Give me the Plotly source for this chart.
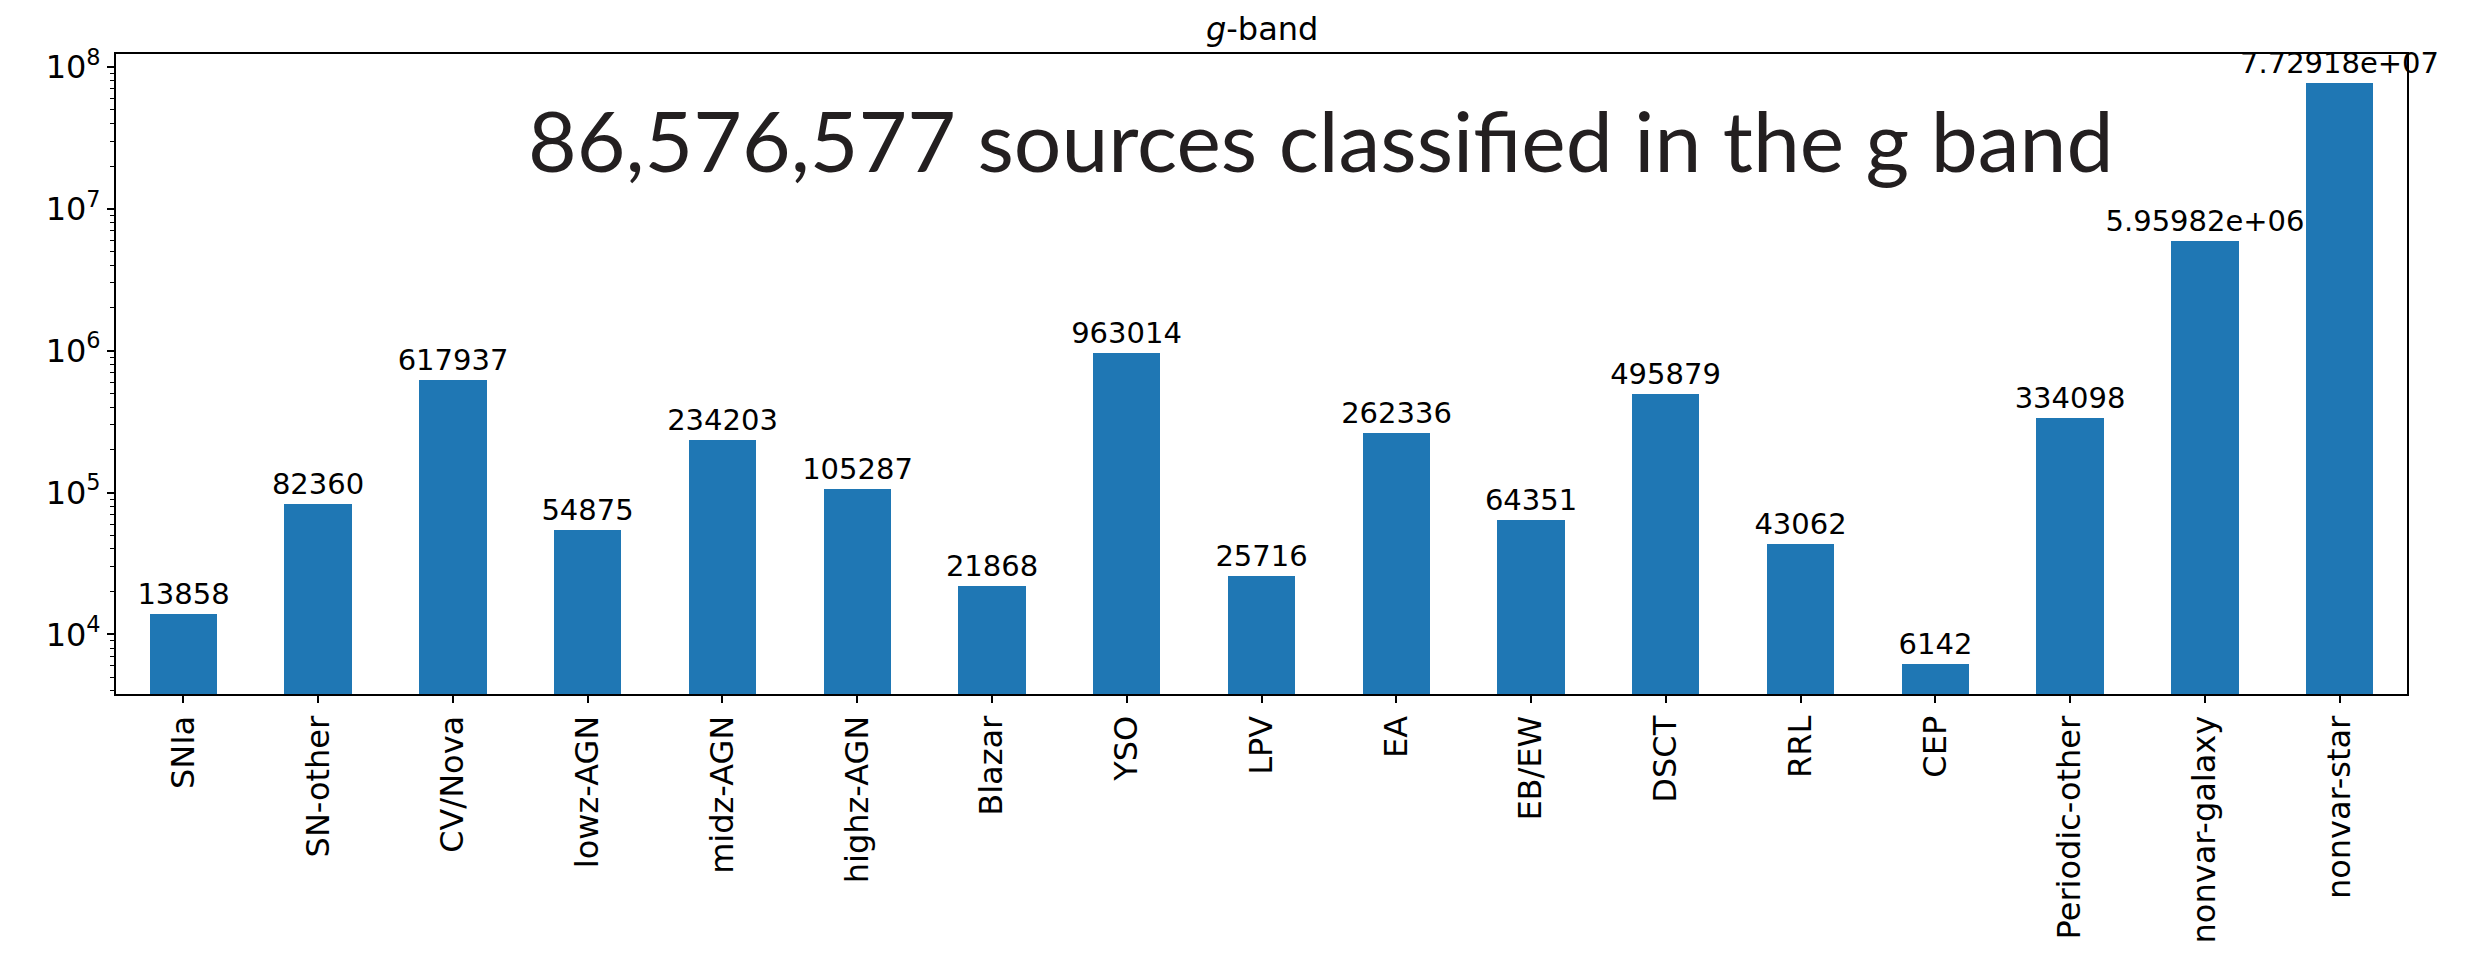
import plotly.graph_objects as go

# g-band class counts
categories = ["SNIa", "SN-other", "CV/Nova", "lowz-AGN", "midz-AGN", "highz-AGN",
              "Blazar", "YSO", "LPV", "EA", "EB/EW", "DSCT", "RRL", "CEP",
              "Periodic-other", "nonvar-galaxy", "nonvar-star"]
counts = [13858, 82360, 617937, 54875, 234203, 105287,
          21868, 963014, 25716, 262336, 64351, 495879, 43062, 6142,
          334098, 5959820, 77291771]

y_tickvals = [1e4, 1e5, 1e6, 1e7, 1e8]
y_ticktext = ["10<sup>4</sup>", "10<sup>5</sup>", "10<sup>6</sup>",
              "10<sup>7</sup>", "10<sup>8</sup>"]

bar_labels = [f"{v:g}" for v in counts]
total_text = f"{sum(counts):,} sources classified in the g band"

W, H = 2490, 955
ML, MR, MT, MB = 116, 83, 54, 258

fig = go.Figure(go.Bar(
    x=list(range(len(categories))),
    y=counts,
    width=0.5,
    marker=dict(color="#1f77b4", line=dict(width=0)),
    text=bar_labels,
    textposition="outside",
    textfont=dict(family="DejaVu Sans", size=29, color="black"),
    constraintext="none",
    cliponaxis=False,
))

axis_common = dict(
    showline=True, linecolor="black", linewidth=2, mirror=True,
    showgrid=False, zeroline=False,
    ticks="outside", ticklen=7, tickwidth=1.5, tickcolor="black",
    tickfont=dict(family="DejaVu Sans", size=32, color="black"),
)

fig.update_xaxes(
    **axis_common,
    tickmode="array",
    tickvals=list(range(len(categories))),
    ticktext=categories,
    tickangle=-90,
    range=[-0.5, len(categories) - 0.5],
)
fig.update_yaxes(
    **axis_common,
    type="log",
    range=[3.58, 8.091],
    tickmode="array",
    tickvals=y_tickvals,
    ticktext=y_ticktext,
    minor=dict(ticks="outside", ticklen=4, tickwidth=1.2, tickcolor="black",
               dtick="D1", showgrid=False),
)

fig.add_annotation(
    text="<i>g</i>-band", xref="paper", yref="paper", x=0.5, y=1,
    xanchor="center", yanchor="bottom", yshift=4, showarrow=False,
    font=dict(family="DejaVu Sans", size=32, color="black"),
)
fig.add_annotation(
    text=total_text, xref="paper", yref="paper", x=0.526, y=0.866,
    xanchor="center", yanchor="middle", showarrow=False,
    font=dict(family="Lato", size=84, color="#231f20"),
)

fig.update_layout(
    width=W, height=H,
    margin=dict(l=ML, r=MR, t=MT, b=MB, pad=0),
    plot_bgcolor="white", paper_bgcolor="white",
    showlegend=False,
    bargap=0,
)

fig.write_html("out.html")
